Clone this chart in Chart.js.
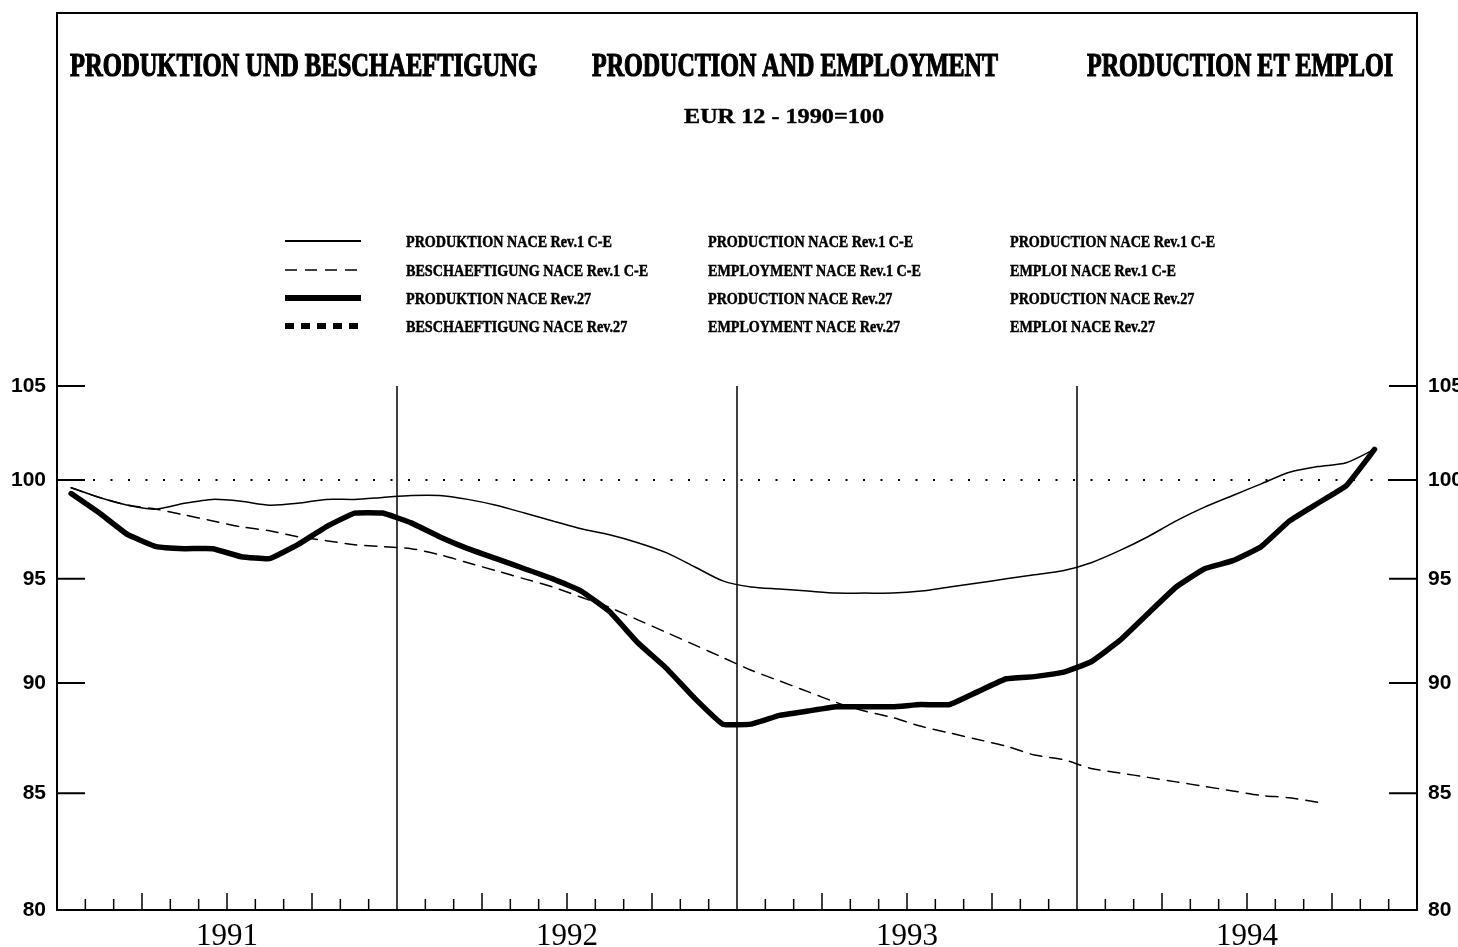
<!DOCTYPE html>
<html>
<head>
<meta charset="utf-8">
<script src="https://cdn.jsdelivr.net/npm/chart.js@4.4.0/dist/chart.umd.min.js"></script>
<style>
  html, body { margin: 0; padding: 0; background: #fff; }
</style>
</head>
<body>
<canvas id="chart" width="1458" height="947"></canvas>
<script>
// years on the x axis, 12 months each
var years = ['1991', '1992', '1993', '1994'];
var yTicks = [80, 85, 90, 95, 100, 105];

// monthly index values, Jan 1991 onwards
var prodRev1 = [99.6, 99.1, 98.7, 98.5, 98.8, 99.0, 98.9, 98.7, 98.8, 99.0, 99.0, 99.1,
                99.2, 99.2, 99.0, 98.7, 98.3, 97.9, 97.5, 97.2, 96.8, 96.3, 95.6, 94.9,
                94.6, 94.5, 94.4, 94.3, 94.3, 94.3, 94.4, 94.6, 94.8, 95.0, 95.2, 95.4,
                95.8, 96.4, 97.1, 97.9, 98.6, 99.2, 99.8, 100.4, 100.7, 100.9, 101.6];
var empRev1 = [99.6, 99.1, 98.7, 98.5, 98.2, 97.9, 97.6, 97.4, 97.1, 96.9, 96.7, 96.6,
               96.5, 96.2, 95.8, 95.4, 95.0, 94.6, 94.1, 93.6, 93.0, 92.4, 91.8, 91.2,
               90.6, 90.1, 89.6, 89.1, 88.7, 88.4, 88.0, 87.7, 87.4, 87.1, 86.7, 86.5,
               86.1, 85.9, 85.7, 85.5, 85.3, 85.1, 84.9, 84.8, 84.6];
var prodRev27 = [99.3, 98.3, 97.2, 96.6, 96.5, 96.5, 96.1, 96.0, 96.7, 97.6, 98.3, 98.3,
                 97.8, 97.1, 96.5, 96.0, 95.5, 95.0, 94.4, 93.4, 91.9, 90.7, 89.3, 88.1,
                 88.1, 88.5, 88.7, 88.9, 88.9, 88.9, 89.0, 89.0, 89.6, 90.2, 90.3, 90.5,
                 91.0, 92.0, 93.3, 94.6, 95.5, 95.9, 96.6, 97.9, 98.8, 99.7, 101.6];
var empRev27 = [];

var legendDe = ['PRODUKTION NACE Rev.1 C-E', 'BESCHAEFTIGUNG NACE Rev.1 C-E', 'PRODUKTION NACE Rev.27', 'BESCHAEFTIGUNG NACE Rev.27'];
var legendEn = ['PRODUCTION NACE Rev.1 C-E', 'EMPLOYMENT NACE Rev.1 C-E', 'PRODUCTION NACE Rev.27', 'EMPLOYMENT NACE Rev.27'];
var legendFr = ['PRODUCTION NACE Rev.1 C-E', 'EMPLOI NACE Rev.1 C-E', 'PRODUCTION NACE Rev.27', 'EMPLOI NACE Rev.27'];

var titles = ['PRODUKTION UND BESCHAEFTIGUNG', 'PRODUCTION AND EMPLOYMENT', 'PRODUCTION ET EMPLOI'];
var subTitle = 'EUR 12 - 1990=100';

function toPoints(arr) {
    return arr.map(function (v, i) { return { x: i + 0.5, y: v }; });
}

// draws text squeezed or stretched to a given width, a bit heavier like the print
function fitText(ctx, t, x, y, w, heavy) {
    var nat = ctx.measureText(t).width;
    ctx.save();
    ctx.translate(x, y);
    ctx.scale(w / nat, 1);
    ctx.fillText(t, 0, 0);
    if (heavy) {
        ctx.lineWidth = heavy;
        ctx.strokeText(t, 0, 0);
    }
    ctx.restore();
}

// frame, inner ticks, dotted 100 line, titles and legend
var decor = {
    id: 'decor',
    beforeDatasetsDraw: function (chart) {
        var ctx = chart.ctx, a = chart.chartArea;
        var xs = chart.scales.x, ys = chart.scales.y;
        ctx.save();
        ctx.strokeStyle = '#000';
        ctx.lineWidth = 2;
        ctx.beginPath();
        ctx.moveTo(a.left, a.bottom); ctx.lineTo(a.left, 13);
        ctx.lineTo(a.right, 13); ctx.lineTo(a.right, a.bottom);
        ctx.stroke();

        // y ticks pointing inwards
        yTicks.forEach(function (v) {
            if (v === 80) return;
            var py = ys.getPixelForValue(v);
            ctx.beginPath();
            ctx.moveTo(a.left, py); ctx.lineTo(a.left + 28, py);
            ctx.moveTo(a.right - 28, py); ctx.lineTo(a.right, py);
            ctx.stroke();
        });

        // year separators and month ticks
        ctx.lineWidth = 1.5;
        var top = ys.getPixelForValue(105);
        for (var m = 1; m < years.length * 12; m++) {
            var px = xs.getPixelForValue(m);
            ctx.beginPath();
            if (m % 12 === 0) {
                ctx.moveTo(px, a.bottom); ctx.lineTo(px, top);
            } else {
                ctx.moveTo(px, a.bottom); ctx.lineTo(px, a.bottom - (m % 3 === 0 ? 17 : 11));
            }
            ctx.stroke();
        }

        // dotted 100 line
        var p100 = ys.getPixelForValue(100);
        ctx.setLineDash([2, 15.5]);
        ctx.lineWidth = 2;
        ctx.beginPath();
        ctx.moveTo(a.left + 36, p100); ctx.lineTo(a.right - 20, p100);
        ctx.stroke();
        ctx.restore();
    },
    afterDraw: function (chart) {
        var ctx = chart.ctx;
        ctx.save();
        ctx.fillStyle = '#000';
        ctx.strokeStyle = '#000';

        ctx.font = 'bold 33px "Liberation Serif"';
        var tx = [70, 592, 1087], tw = [467, 406, 306];
        titles.forEach(function (t, i) {
            fitText(ctx, t, tx[i], 76, tw[i], 1.2);
        });

        ctx.font = 'bold 20px "Liberation Serif"';
        fitText(ctx, subTitle, 684, 123, 200, 0.4);

        ctx.font = 'bold 17px "Liberation Serif"';
        var lf = 1.04 * 198 / ctx.measureText(legendDe[0]).width;
        var rows = [241, 270, 298, 326];
        var cols = [406, 708, 1010];
        chart.data.datasets.forEach(function (ds, i) {
            var ry = rows[i];
            ctx.save();
            ctx.lineWidth = ds.legendWidth;
            ctx.setLineDash(ds.borderDash || []);
            ctx.beginPath();
            ctx.moveTo(285, ry); ctx.lineTo(361, ry);
            ctx.stroke();
            ctx.restore();
            [legendDe, legendEn, legendFr].forEach(function (lab, c) {
                var t = lab[i];
                fitText(ctx, t, cols[c], ry + 6, ctx.measureText(t).width * lf, 0.5);
            });
        });
        ctx.restore();
    }
};

var yAxis = function (pos, w) {
    return {
        type: 'logarithmic',
        position: pos,
        min: 80,
        max: 105,
        afterBuildTicks: function (scale) {
            scale.ticks = yTicks.map(function (v) { return { value: v }; });
        },
        afterFit: function (scale) { scale.width = w; },
        grid: { display: false, drawTicks: false },
        border: { display: true, color: '#000', width: 2 },
        ticks: {
            padding: 11,
            color: '#000',
            font: { family: 'Liberation Sans', size: 21, weight: 'bold' },
            callback: function (v) { return String(v); }
        }
    };
};

var ctx = document.getElementById('chart').getContext('2d');
var chart = new Chart(ctx, {
    type: 'line',
    data: {
        datasets: [
            { label: legendDe[0], data: toPoints(prodRev1), borderColor: '#000', borderWidth: 1.5, legendWidth: 2, tension: 0.25 },
            { label: legendDe[1], data: toPoints(empRev1), borderColor: '#000', borderWidth: 1.5, legendWidth: 1.5, borderDash: [12, 8], tension: 0.25 },
            { label: legendDe[2], data: toPoints(prodRev27), borderColor: '#000', borderWidth: 5.5, legendWidth: 6, tension: 0.1 },
            { label: legendDe[3], data: toPoints(empRev27), borderColor: '#000', borderWidth: 5.5, legendWidth: 6, borderDash: [9, 7] }
        ]
    },
    options: {
        responsive: false,
        animation: false,
        devicePixelRatio: 1,
        layout: { padding: { top: 386, left: 0, right: 0, bottom: 0 } },
        elements: { point: { radius: 0 }, line: { borderCapStyle: 'round', borderJoinStyle: 'round' } },
        plugins: { legend: { display: false }, title: { display: false }, tooltip: { enabled: false } },
        scales: {
            x: {
                type: 'linear',
                min: 0,
                max: years.length * 12,
                afterBuildTicks: function (scale) {
                    scale.ticks = years.map(function (y, i) { return { value: i * 12 + 6 }; });
                },
                afterFit: function (scale) { scale.height = 37; },
                grid: { display: false, drawTicks: false },
                border: { display: true, color: '#000', width: 2 },
                ticks: {
                    autoSkip: false,
                    maxRotation: 0,
                    padding: 8,
                    color: '#000',
                    font: { family: 'Liberation Serif', size: 31 },
                    callback: function (v) { return years[Math.round((v - 6) / 12)]; }
                }
            },
            y: yAxis('left', 57),
            y2: yAxis('right', 41)
        }
    },
    plugins: [decor]
});
</script>
</body>
</html>
